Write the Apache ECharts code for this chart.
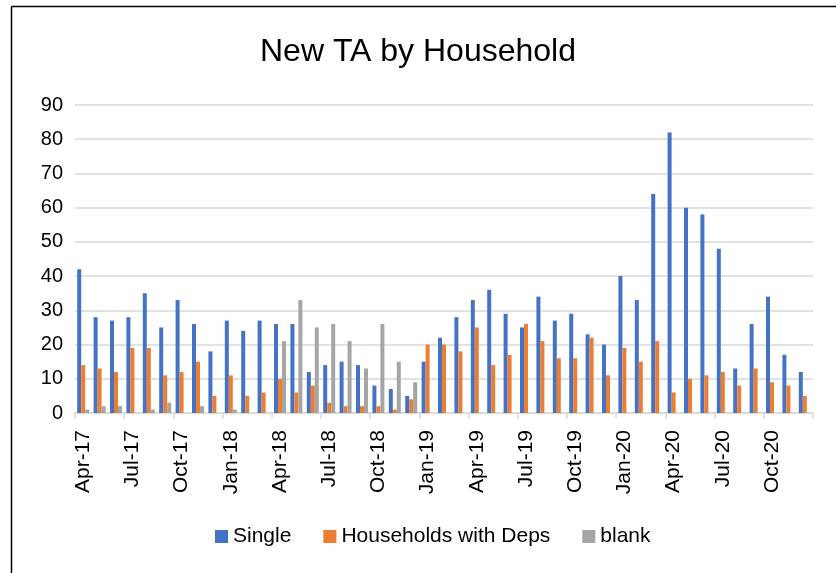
<!DOCTYPE html>
<html>
<head>
<meta charset="utf-8">
<script src="https://cdn.jsdelivr.net/npm/echarts@6/dist/echarts.min.js"></script>
<style>
html,body{margin:0;padding:0;background:#fff;}
#chart{width:836px;height:573px;}
</style>
</head>
<body>
<div id="chart"></div>
<script>
const categories = [
  'Apr-17','May-17','Jun-17','Jul-17','Aug-17','Sep-17','Oct-17','Nov-17','Dec-17',
  'Jan-18','Feb-18','Mar-18','Apr-18','May-18','Jun-18','Jul-18','Aug-18','Sep-18','Oct-18','Nov-18','Dec-18',
  'Jan-19','Feb-19','Mar-19','Apr-19','May-19','Jun-19','Jul-19','Aug-19','Sep-19','Oct-19','Nov-19','Dec-19',
  'Jan-20','Feb-20','Mar-20','Apr-20','May-20','Jun-20','Jul-20','Aug-20','Sep-20','Oct-20','Nov-20','Dec-20'
];
const single = [
  42,28,27,28,35,25,33,26,18,
  27,24,27,26,26,12,14,15,14,8,7,5,
  15,22,28,33,36,29,25,34,27,29,23,20,
  40,33,64,82,60,58,48,13,26,34,17,12
];
const withDeps = [
  14,13,12,19,19,11,12,15,5,
  11,5,6,10,6,8,3,2,2,2,1,4,
  20,20,18,25,14,17,26,21,16,16,22,11,
  19,15,21,6,10,11,12,8,13,9,8,5
];
const blank = [
  1,2,2,null,1,3,null,2,null,
  1,null,null,21,33,25,26,21,13,26,15,9,
  null,null,null,null,null,null,null,null,null,null,null,null,
  null,null,null,null,null,null,null,null,null,null,null,null
];
const yTicks = { min: 0, max: 90, interval: 10 };

const chart = echarts.init(document.getElementById('chart'));
const font = 'Liberation Sans, Arial, sans-serif';
chart.setOption({
  backgroundColor: '#fff',
  animation: false,
  title: {
    text: 'New TA by Household',
    left: 'center',
    top: 31,
    textStyle: { fontFamily: font, fontSize: 32, fontWeight: 'normal', color: '#000' }
  },
  legend: {
    bottom: 21,
    left: 210,
    itemWidth: 13,
    itemHeight: 13,
    itemGap: 32,
    icon: 'rect',
    textStyle: { fontFamily: font, fontSize: 21, color: '#000' },
    data: ['Single', 'Households with Deps', 'blank']
  },
  grid: { left: 75, right: 23, top: 105, bottom: 160, containLabel: false },
  xAxis: {
    type: 'category',
    data: categories,
    boundaryGap: true,
    axisLine: { lineStyle: { color: '#d9d9d9', width: 1.5 } },
    axisTick: { show: true, interval: 2, length: 6, lineStyle: { color: '#d9d9d9', width: 1.5 } },
    axisLabel: { interval: 2, rotate: 90, margin: 17, fontFamily: font, fontSize: 21, color: '#000' }
  },
  yAxis: {
    type: 'value',
    min: yTicks.min, max: yTicks.max, interval: yTicks.interval,
    axisLine: { show: false },
    axisTick: { show: false },
    splitLine: { lineStyle: { color: '#d9d9d9', width: 1.5 } },
    axisLabel: { margin: 12, fontFamily: font, fontSize: 20, color: '#000' }
  },
  series: [
    { name: 'Single', type: 'bar', data: single, itemStyle: { color: '#4472C4' }, barGap: '0%', barCategoryGap: '27%' },
    { name: 'Households with Deps', type: 'bar', data: withDeps, itemStyle: { color: '#ED7D31' } },
    { name: 'blank', type: 'bar', data: blank, itemStyle: { color: '#A5A5A5' } }
  ],
  graphic: [
    { type: 'line', shape: { x1: 11.5, y1: 6.5, x2: 836, y2: 6.5 }, style: { stroke: '#000', lineWidth: 1.5 } },
    { type: 'line', shape: { x1: 11.5, y1: 6.5, x2: 11.5, y2: 573 }, style: { stroke: '#000', lineWidth: 1.5 } }
  ]
});
</script>
</body>
</html>
